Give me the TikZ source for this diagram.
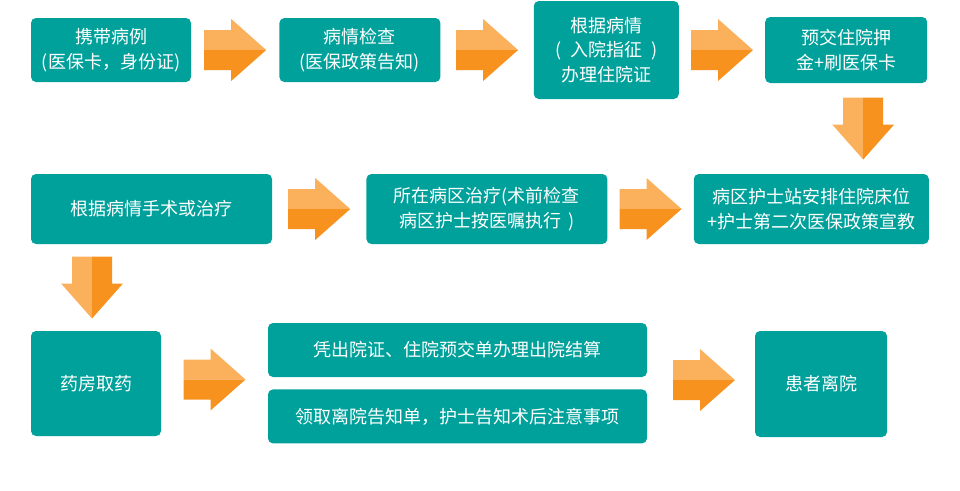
\documentclass[tikz,border=0pt]{standalone}
\usepackage{fontspec}
\setmainfont{Noto Sans CJK SC}
\usepackage{tikz}
\usetikzlibrary{positioning,calc}
\definecolor{teal1}{RGB}{0,161,155}
\definecolor{orL}{RGB}{251,176,92}
\definecolor{orD}{RGB}{247,146,30}

\begin{document}
\begin{tikzpicture}[x=1pt, y=-1pt,
  box/.style={fill=teal1, rounded corners=5pt, text=white, align=center, inner sep=0pt,
    font=\fontsize{18}{24.5}\selectfont},
  fatR/.pic={\fill[orL] (-31,0) -- (-31,-20) -- (-4,-20) -- (-4,-31) -- (31,0) -- cycle;
    \fill[orD] (-31,0) -- (31,0) -- (-4,31) -- (-4,20) -- (-31,20) -- cycle;},
  fatD/.pic={\fill[orL] (0,-31) -- (-20,-31) -- (-20,-4) -- (-31,-4) -- (0,31) -- cycle;
    \fill[orD] (0,-31) -- (20,-31) -- (20,-4) -- (31,-4) -- (0,31) -- cycle;}]
\useasboundingbox (0,0) rectangle (960,490);
%nodes
\node (B1) [box, minimum width=160pt, minimum height=64pt] at (111,50) {携带病例\\(医保卡，身份证)};
\node (B2) [box, right=88pt of B1, minimum width=161pt, minimum height=64pt] {病情检查\\(医保政策告知)};
\node (B3) [box, right=93pt of B2, minimum width=145pt, minimum height=98pt] {根据病情\\(\hspace{.5em}入院指征\hspace{.5em})\\办理住院证};
\node (B4) [box, right=86pt of B3, minimum width=162pt, minimum height=66pt] {预交住院押\\金+刷医保卡};

\node (B5) [box, minimum width=241pt, minimum height=70pt] at (151.5,209) {根据病情手术或治疗};
\node (B6) [box, right=94pt of B5, minimum width=241pt, minimum height=70pt] {所在病区治疗(术前检查\\病区护士按医嘱执行\hspace{.4em})};
\node (B7) [box, right=86pt of B6, minimum width=235pt, minimum height=70pt] {病区护士站安排住院床位\\+护士第二次医保政策宣教};

\node (B8) [box, minimum width=130pt, minimum height=105pt] at (96,383.5) {药房取药};
\node (B9) [box, minimum width=379pt, minimum height=54pt] at (457.5,350) {凭出院证、住院预交单办理出院结算};
\node (B10) [box, below=12pt of B9, minimum width=379pt, minimum height=54pt] {领取离院告知单，护士告知术后注意事项};
\node (B11) [box, minimum width=132pt, minimum height=106pt] at (821,384) {患者离院};

%links
\pic at ($(B1.east)!.5!(B2.west)$) {fatR};
\pic at ($(B2.east)!.5!(B3.west)$) {fatR};
\pic at ($(B3.east)!.5!(B4.west)$) {fatR};
\pic at ($(B4.south)!.5!(B4.south |- B7.north) + (17,0)$) {fatD};
\pic at ($(B5.east)!.5!(B6.west)$) {fatR};
\pic at ($(B6.east)!.5!(B7.west)$) {fatR};
\pic at ($(B8.north)!.5!(B8.north |- B5.south) + (-4,0)$) {fatD};
\pic at ($(B8.east)!.5!(B9.west |- B8.east) + (0,-4)$) {fatR};
\pic at ($(B9.east |- B11.west)!.5!(B11.west) + (3,-4)$) {fatR};
\end{tikzpicture}
\end{document}
